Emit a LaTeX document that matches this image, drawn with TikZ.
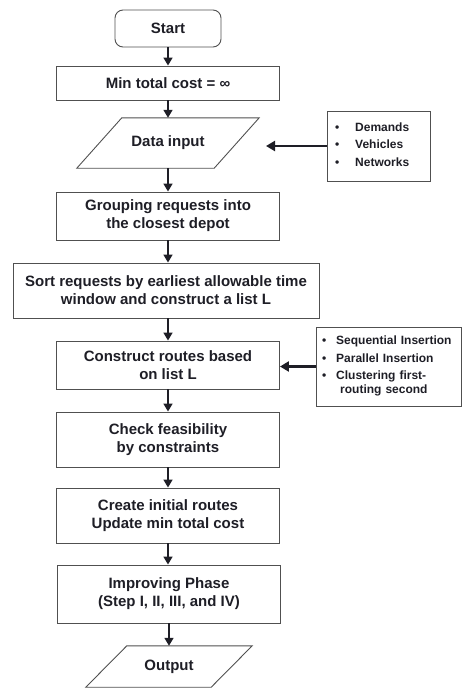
\documentclass[tikz,border=0pt]{standalone}
\usepackage{fontspec}
\setmainfont{Liberation Sans}
\usetikzlibrary{arrows.meta,calc}
\definecolor{ink}{HTML}{1E1E26}
\definecolor{edge}{HTML}{505050}
\begin{document}
\begin{tikzpicture}[x=1pt,y=-1pt,
  mainfont/.style={font=\fontsize{15}{18}\selectfont\bfseries},
  sidefont/.style={font=\fontsize{12}{14.4}\selectfont\bfseries},
  procbox/.style={draw=edge, line width=0.9pt, text=ink, mainfont,
    align=center, inner sep=0pt, minimum width=223pt},
  iobox/.style={text=ink, mainfont, align=center, inner sep=0pt},
  iooutline/.style={draw=edge, line width=0.9pt},
  sidebox/.style={draw=edge, line width=0.9pt, text=ink, sidefont,
    align=left, inner ysep=0pt},
  flow/.style={draw=ink, line width=1.7pt, -{Triangle[length=8pt,width=9pt]}},
  feed/.style={draw=ink, line width=2.3pt, -{Triangle[length=9pt,width=10pt]}}
]
\useasboundingbox (0,0) rectangle (462,689);

% main column
\node[procbox, rounded corners=8pt, minimum width=106pt, minimum height=37pt]
  (start) at (168,28.5) {Start};
\node[procbox, minimum height=34pt] (mincost) at (168,83) {Min total cost = ∞};
\node[iobox, minimum width=182pt, minimum height=50pt] (data) at (168,143) {Data input};
\node[procbox, minimum height=48pt] (group) at (168,216)
  {Grouping requests into\\the closest depot};
\node[procbox, minimum width=306pt, minimum height=55pt] (sort) at (166,290.5)
  {Sort requests by earliest allowable time\\window and construct a list L};
\node[procbox, minimum height=48pt] (construct) at (168,365)
  {Construct routes based\\on list L};
\node[procbox, minimum height=55pt] (check) at (168,439.5)
  {Check feasibility\\by constraints};
\node[procbox, minimum height=55pt] (create) at (168,515.5)
  {Create initial routes\\Update min total cost};
\node[procbox, minimum height=58pt] (improve) at (169,594)
  {Improving Phase\\(Step I, II, III, and IV)};
\node[iobox, minimum width=166pt, minimum height=41pt] (output) at (169,666.5) {Output};

% parallelogram outlines of the input/output steps
\draw[iooutline] ($(data.north west)+(45,0)$) -- (data.north east)
  -- ($(data.south east)-(45,0)$) -- (data.south west) -- cycle;
\draw[iooutline] ($(output.north west)+(41,0)$) -- (output.north east)
  -- ($(output.south east)-(41,0)$) -- (output.south west) -- cycle;

% side boxes
\node[sidebox, inner xsep=8pt, text width=87pt, minimum height=70pt]
  (inputs) at (378.5,146)
  {\begin{tabular}{@{}l@{\hspace{16pt}}l@{}}
    \textbullet & Demands\\[3pt]
    \textbullet & Vehicles\\[3pt]
    \textbullet & Networks
  \end{tabular}};
\node[sidebox, inner xsep=6pt, text width=133pt, minimum height=79pt]
  (methods) at (388.5,366.5)
  {\begin{tabular}{@{}l@{\hspace{10pt}}l@{}}
    \textbullet & Sequential Insertion\\[3pt]
    \textbullet & Parallel Insertion\\[3pt]
    \textbullet & Clustering first-\\
                & \hspace{4pt}routing second
  \end{tabular}};

\coordinate (dataIn) at (266,146);

% connectors
\draw[flow] (start.south) -- (start.south |- mincost.north);
\draw[flow] (mincost.south) -- (mincost.south |- data.north);
\draw[flow] (data.south) -- (data.south |- group.north);
\draw[flow] (group.south) -- (group.south |- sort.north);
\draw[flow] (construct.north |- sort.south) -- (construct.north);
\draw[flow] (construct.south) -- (construct.south |- check.north);
\draw[flow] (check.south) -- (check.south |- create.north);
\draw[flow] (create.south) -- (create.south |- improve.north);
\draw[flow] (improve.south) -- (improve.south |- output.north);
\draw[feed] (inputs.west) -- (dataIn);
\draw[feed] (methods.west) -- (methods.west -| construct.east);
\end{tikzpicture}
\end{document}
